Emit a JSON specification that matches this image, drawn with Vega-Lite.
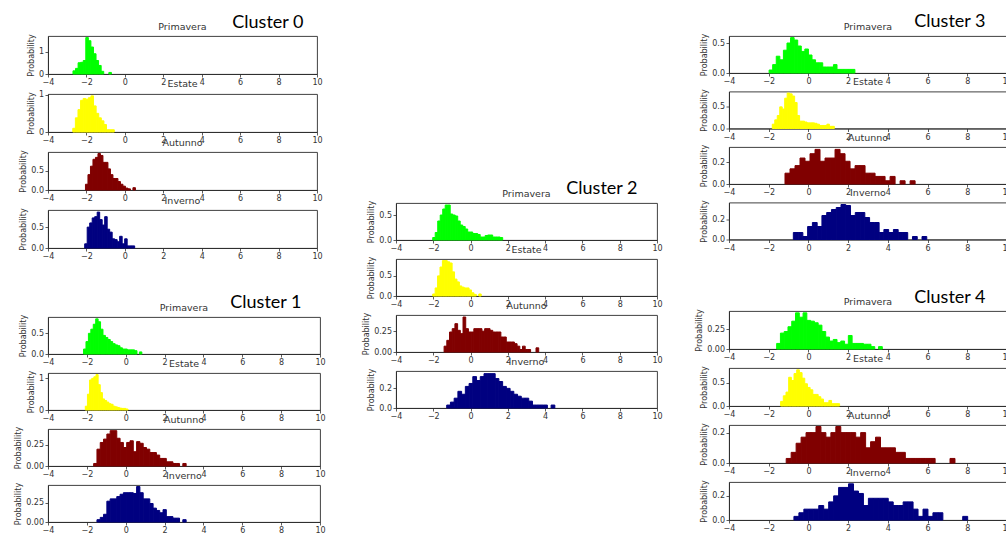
{
  "$schema": "https://vega.github.io/schema/vega-lite/v6.json",
  "background": "white",
  "padding": {"left": 14, "top": 13, "right": 0, "bottom": 0},
  "config": {
    "font": "DejaVu Sans",
    "view": {"stroke": "#2b2b2b", "strokeWidth": 0.9},
    "axis": {"grid": false, "labelFontSize": 8, "labelColor": "#333", "labelFlush": false, "labelOverlap": false, "tickColor": "#333", "tickSize": 3, "tickWidth": 0.8, "domainColor": "#2b2b2b", "domainWidth": 0.9, "titleFontSize": 8, "titleFontWeight": "normal", "titleColor": "#333", "labelPadding": 1.5, "titlePadding": 3},
    "title": {"fontSize": 9.5, "fontWeight": "normal", "color": "#333", "offset": 2},
    "rect": {"strokeWidth": 1, "strokeJoin": "miter"}
  },
  "datasets": {
    "c0_pri": [
      {"lo": -2.7, "hi": -2.567, "p": 0.14}, {"lo": -2.567, "hi": -2.433, "p": 0.25}, {"lo": -2.433, "hi": -2.3, "p": 0.5},
      {"lo": -2.3, "hi": -2.167, "p": 0.52}, {"lo": -2.167, "hi": -2.033, "p": 0.6}, {"lo": -2.033, "hi": -1.9, "p": 1.62},
      {"lo": -1.9, "hi": -1.767, "p": 1.48}, {"lo": -1.767, "hi": -1.633, "p": 1.2}, {"lo": -1.633, "hi": -1.5, "p": 0.9},
      {"lo": -1.5, "hi": -1.367, "p": 0.6}, {"lo": -1.367, "hi": -1.233, "p": 0.38}, {"lo": -1.233, "hi": -1.1, "p": 0.12},
      {"lo": -0.833, "hi": -0.7, "p": 0.07}
    ],
    "c0_est": [
      {"lo": -2.71, "hi": -2.575, "p": 0.1}, {"lo": -2.575, "hi": -2.44, "p": 0.38}, {"lo": -2.44, "hi": -2.305, "p": 0.6},
      {"lo": -2.305, "hi": -2.17, "p": 0.85}, {"lo": -2.17, "hi": -2.035, "p": 0.9}, {"lo": -2.035, "hi": -1.9, "p": 0.88},
      {"lo": -1.9, "hi": -1.765, "p": 0.92}, {"lo": -1.765, "hi": -1.63, "p": 0.97}, {"lo": -1.63, "hi": -1.495, "p": 0.7},
      {"lo": -1.495, "hi": -1.36, "p": 0.5}, {"lo": -1.36, "hi": -1.225, "p": 0.38}, {"lo": -1.225, "hi": -1.09, "p": 0.3},
      {"lo": -1.09, "hi": -0.955, "p": 0.2}, {"lo": -0.955, "hi": -0.82, "p": 0.06}, {"lo": -0.82, "hi": -0.685, "p": 0.06},
      {"lo": -0.685, "hi": -0.55, "p": 0.06}
    ],
    "c0_aut": [
      {"lo": -2.05, "hi": -1.92, "p": 0.15}, {"lo": -1.92, "hi": -1.79, "p": 0.4}, {"lo": -1.79, "hi": -1.66, "p": 0.62},
      {"lo": -1.66, "hi": -1.53, "p": 0.8}, {"lo": -1.53, "hi": -1.4, "p": 0.85}, {"lo": -1.4, "hi": -1.27, "p": 0.95},
      {"lo": -1.27, "hi": -1.14, "p": 0.9}, {"lo": -1.14, "hi": -1.01, "p": 0.72}, {"lo": -1.01, "hi": -0.88, "p": 0.72},
      {"lo": -0.88, "hi": -0.75, "p": 0.55}, {"lo": -0.75, "hi": -0.62, "p": 0.4}, {"lo": -0.62, "hi": -0.49, "p": 0.3},
      {"lo": -0.49, "hi": -0.36, "p": 0.3}, {"lo": -0.36, "hi": -0.23, "p": 0.22}, {"lo": -0.23, "hi": -0.1, "p": 0.15},
      {"lo": -0.1, "hi": 0.03, "p": 0.1}, {"lo": 0.03, "hi": 0.16, "p": 0.05}, {"lo": 0.16, "hi": 0.29, "p": 0.03},
      {"lo": 0.42, "hi": 0.55, "p": 0.06}
    ],
    "c0_inv": [
      {"lo": -2.09, "hi": -1.96, "p": 0.1}, {"lo": -1.96, "hi": -1.83, "p": 0.5}, {"lo": -1.83, "hi": -1.7, "p": 0.6},
      {"lo": -1.7, "hi": -1.57, "p": 0.72}, {"lo": -1.57, "hi": -1.44, "p": 0.75}, {"lo": -1.44, "hi": -1.31, "p": 0.86},
      {"lo": -1.31, "hi": -1.18, "p": 0.68}, {"lo": -1.18, "hi": -1.05, "p": 0.55}, {"lo": -1.05, "hi": -0.92, "p": 0.75},
      {"lo": -0.92, "hi": -0.79, "p": 0.45}, {"lo": -0.79, "hi": -0.66, "p": 0.38}, {"lo": -0.66, "hi": -0.53, "p": 0.22},
      {"lo": -0.53, "hi": -0.4, "p": 0.2}, {"lo": -0.4, "hi": -0.27, "p": 0.15}, {"lo": -0.27, "hi": -0.14, "p": 0.28},
      {"lo": -0.14, "hi": -0.01, "p": 0.1}, {"lo": -0.01, "hi": 0.12, "p": 0.22}, {"lo": 0.12, "hi": 0.25, "p": 0.05},
      {"lo": 0.25, "hi": 0.38, "p": 0.05}, {"lo": 0.38, "hi": 0.51, "p": 0.05}
    ],
    "c1_pri": [
      {"lo": -2.17, "hi": -2.045, "p": 0.12}, {"lo": -2.045, "hi": -1.92, "p": 0.3}, {"lo": -1.92, "hi": -1.795, "p": 0.5},
      {"lo": -1.795, "hi": -1.67, "p": 0.6}, {"lo": -1.67, "hi": -1.545, "p": 0.72}, {"lo": -1.545, "hi": -1.42, "p": 0.85},
      {"lo": -1.42, "hi": -1.295, "p": 0.78}, {"lo": -1.295, "hi": -1.17, "p": 0.6}, {"lo": -1.17, "hi": -1.045, "p": 0.45},
      {"lo": -1.045, "hi": -0.92, "p": 0.4}, {"lo": -0.92, "hi": -0.795, "p": 0.35}, {"lo": -0.795, "hi": -0.67, "p": 0.3},
      {"lo": -0.67, "hi": -0.545, "p": 0.25}, {"lo": -0.545, "hi": -0.42, "p": 0.22}, {"lo": -0.42, "hi": -0.295, "p": 0.2},
      {"lo": -0.295, "hi": -0.17, "p": 0.15}, {"lo": -0.17, "hi": -0.045, "p": 0.12}, {"lo": -0.045, "hi": 0.08, "p": 0.12},
      {"lo": 0.08, "hi": 0.205, "p": 0.1}, {"lo": 0.205, "hi": 0.33, "p": 0.1}, {"lo": 0.33, "hi": 0.455, "p": 0.1},
      {"lo": 0.455, "hi": 0.58, "p": 0.08}, {"lo": 0.705, "hi": 0.83, "p": 0.05}
    ],
    "c1_est": [
      {"lo": -2.08, "hi": -1.97, "p": 0.12}, {"lo": -1.97, "hi": -1.86, "p": 0.5}, {"lo": -1.86, "hi": -1.75, "p": 0.95},
      {"lo": -1.75, "hi": -1.64, "p": 1.0}, {"lo": -1.64, "hi": -1.53, "p": 1.05}, {"lo": -1.53, "hi": -1.42, "p": 1.12},
      {"lo": -1.42, "hi": -1.31, "p": 0.8}, {"lo": -1.31, "hi": -1.2, "p": 0.55}, {"lo": -1.2, "hi": -1.09, "p": 0.35},
      {"lo": -1.09, "hi": -0.98, "p": 0.3}, {"lo": -0.98, "hi": -0.87, "p": 0.25}, {"lo": -0.87, "hi": -0.76, "p": 0.2},
      {"lo": -0.76, "hi": -0.65, "p": 0.18}, {"lo": -0.65, "hi": -0.54, "p": 0.12}, {"lo": -0.54, "hi": -0.43, "p": 0.1},
      {"lo": -0.43, "hi": -0.32, "p": 0.08}, {"lo": -0.32, "hi": -0.21, "p": 0.06}, {"lo": -0.21, "hi": -0.1, "p": 0.05},
      {"lo": -0.1, "hi": 0.01, "p": 0.05}, {"lo": 0.01, "hi": 0.12, "p": 0.03}
    ],
    "c1_aut": [
      {"lo": -1.65, "hi": -1.48, "p": 0.03}, {"lo": -1.48, "hi": -1.31, "p": 0.2}, {"lo": -1.31, "hi": -1.14, "p": 0.28},
      {"lo": -1.14, "hi": -0.97, "p": 0.32}, {"lo": -0.97, "hi": -0.8, "p": 0.38}, {"lo": -0.8, "hi": -0.63, "p": 0.42},
      {"lo": -0.63, "hi": -0.46, "p": 0.42}, {"lo": -0.46, "hi": -0.29, "p": 0.33}, {"lo": -0.29, "hi": -0.12, "p": 0.28},
      {"lo": -0.12, "hi": 0.05, "p": 0.22}, {"lo": 0.05, "hi": 0.22, "p": 0.28}, {"lo": 0.22, "hi": 0.39, "p": 0.3},
      {"lo": 0.39, "hi": 0.56, "p": 0.17}, {"lo": 0.56, "hi": 0.73, "p": 0.29}, {"lo": 0.73, "hi": 0.9, "p": 0.27},
      {"lo": 0.9, "hi": 1.07, "p": 0.22}, {"lo": 1.07, "hi": 1.24, "p": 0.2}, {"lo": 1.24, "hi": 1.41, "p": 0.16},
      {"lo": 1.41, "hi": 1.58, "p": 0.16}, {"lo": 1.58, "hi": 1.75, "p": 0.13}, {"lo": 1.75, "hi": 1.92, "p": 0.09},
      {"lo": 1.92, "hi": 2.09, "p": 0.09}, {"lo": 2.09, "hi": 2.26, "p": 0.05}, {"lo": 2.26, "hi": 2.43, "p": 0.05},
      {"lo": 2.43, "hi": 2.6, "p": 0.03}, {"lo": 2.6, "hi": 2.77, "p": 0.03}, {"lo": 2.94, "hi": 3.11, "p": 0.03}
    ],
    "c1_inv": [
      {"lo": -1.48, "hi": -1.31, "p": 0.03}, {"lo": -1.31, "hi": -1.14, "p": 0.06}, {"lo": -1.14, "hi": -0.97, "p": 0.1},
      {"lo": -0.97, "hi": -0.8, "p": 0.27}, {"lo": -0.8, "hi": -0.63, "p": 0.3}, {"lo": -0.63, "hi": -0.46, "p": 0.3},
      {"lo": -0.46, "hi": -0.29, "p": 0.33}, {"lo": -0.29, "hi": -0.12, "p": 0.36}, {"lo": -0.12, "hi": 0.05, "p": 0.38},
      {"lo": 0.05, "hi": 0.22, "p": 0.38}, {"lo": 0.22, "hi": 0.39, "p": 0.38}, {"lo": 0.39, "hi": 0.56, "p": 0.37},
      {"lo": 0.56, "hi": 0.73, "p": 0.46}, {"lo": 0.73, "hi": 0.9, "p": 0.38}, {"lo": 0.9, "hi": 1.07, "p": 0.3},
      {"lo": 1.07, "hi": 1.24, "p": 0.3}, {"lo": 1.24, "hi": 1.41, "p": 0.24}, {"lo": 1.41, "hi": 1.58, "p": 0.18},
      {"lo": 1.58, "hi": 1.75, "p": 0.15}, {"lo": 1.75, "hi": 1.92, "p": 0.12}, {"lo": 1.92, "hi": 2.09, "p": 0.16},
      {"lo": 2.09, "hi": 2.26, "p": 0.07}, {"lo": 2.26, "hi": 2.43, "p": 0.07}, {"lo": 2.43, "hi": 2.6, "p": 0.05},
      {"lo": 2.6, "hi": 2.77, "p": 0.05}, {"lo": 2.94, "hi": 3.11, "p": 0.03}
    ],
    "c2_pri": [
      {"lo": -2.03, "hi": -1.896, "p": 0.05}, {"lo": -1.896, "hi": -1.762, "p": 0.15}, {"lo": -1.762, "hi": -1.628, "p": 0.38},
      {"lo": -1.628, "hi": -1.494, "p": 0.5}, {"lo": -1.494, "hi": -1.36, "p": 0.62}, {"lo": -1.36, "hi": -1.226, "p": 0.7},
      {"lo": -1.226, "hi": -1.092, "p": 0.7}, {"lo": -1.092, "hi": -0.958, "p": 0.52}, {"lo": -0.958, "hi": -0.824, "p": 0.5},
      {"lo": -0.824, "hi": -0.69, "p": 0.48}, {"lo": -0.69, "hi": -0.556, "p": 0.38}, {"lo": -0.556, "hi": -0.422, "p": 0.3},
      {"lo": -0.422, "hi": -0.288, "p": 0.27}, {"lo": -0.288, "hi": -0.154, "p": 0.22}, {"lo": -0.154, "hi": -0.02, "p": 0.16},
      {"lo": -0.02, "hi": 0.114, "p": 0.16}, {"lo": 0.114, "hi": 0.248, "p": 0.13}, {"lo": 0.248, "hi": 0.382, "p": 0.13},
      {"lo": 0.382, "hi": 0.516, "p": 0.11}, {"lo": 0.516, "hi": 0.65, "p": 0.06}, {"lo": 0.65, "hi": 0.784, "p": 0.06},
      {"lo": 0.784, "hi": 0.918, "p": 0.09}, {"lo": 0.918, "hi": 1.052, "p": 0.1}, {"lo": 1.052, "hi": 1.186, "p": 0.1},
      {"lo": 1.186, "hi": 1.32, "p": 0.06}, {"lo": 1.32, "hi": 1.454, "p": 0.06}, {"lo": 1.454, "hi": 1.588, "p": 0.06},
      {"lo": 1.588, "hi": 1.722, "p": 0.05}
    ],
    "c2_est": [
      {"lo": -2.03, "hi": -1.9, "p": 0.05}, {"lo": -1.9, "hi": -1.77, "p": 0.2}, {"lo": -1.77, "hi": -1.64, "p": 0.5},
      {"lo": -1.64, "hi": -1.51, "p": 0.72}, {"lo": -1.51, "hi": -1.38, "p": 0.88}, {"lo": -1.38, "hi": -1.25, "p": 0.88},
      {"lo": -1.25, "hi": -1.12, "p": 0.85}, {"lo": -1.12, "hi": -0.99, "p": 0.82}, {"lo": -0.99, "hi": -0.86, "p": 0.6},
      {"lo": -0.86, "hi": -0.73, "p": 0.42}, {"lo": -0.73, "hi": -0.6, "p": 0.35}, {"lo": -0.6, "hi": -0.47, "p": 0.25},
      {"lo": -0.47, "hi": -0.34, "p": 0.22}, {"lo": -0.34, "hi": -0.21, "p": 0.2}, {"lo": -0.21, "hi": -0.08, "p": 0.2},
      {"lo": -0.08, "hi": 0.05, "p": 0.15}, {"lo": 0.05, "hi": 0.18, "p": 0.08}, {"lo": 0.18, "hi": 0.31, "p": 0.04},
      {"lo": 0.44, "hi": 0.57, "p": 0.05}
    ],
    "c2_aut": [
      {"lo": -1.42, "hi": -1.275, "p": 0.07}, {"lo": -1.275, "hi": -1.13, "p": 0.14}, {"lo": -1.13, "hi": -0.985, "p": 0.24},
      {"lo": -0.985, "hi": -0.84, "p": 0.28}, {"lo": -0.84, "hi": -0.695, "p": 0.34}, {"lo": -0.695, "hi": -0.55, "p": 0.26},
      {"lo": -0.55, "hi": -0.405, "p": 0.22}, {"lo": -0.405, "hi": -0.26, "p": 0.42}, {"lo": -0.26, "hi": -0.115, "p": 0.28},
      {"lo": -0.115, "hi": 0.03, "p": 0.24}, {"lo": 0.03, "hi": 0.175, "p": 0.24}, {"lo": 0.175, "hi": 0.32, "p": 0.28},
      {"lo": 0.32, "hi": 0.465, "p": 0.28}, {"lo": 0.465, "hi": 0.61, "p": 0.28}, {"lo": 0.61, "hi": 0.755, "p": 0.25},
      {"lo": 0.755, "hi": 0.9, "p": 0.28}, {"lo": 0.9, "hi": 1.045, "p": 0.28}, {"lo": 1.045, "hi": 1.19, "p": 0.26},
      {"lo": 1.19, "hi": 1.335, "p": 0.24}, {"lo": 1.335, "hi": 1.48, "p": 0.24}, {"lo": 1.48, "hi": 1.625, "p": 0.24},
      {"lo": 1.625, "hi": 1.77, "p": 0.18}, {"lo": 1.77, "hi": 1.915, "p": 0.18}, {"lo": 1.915, "hi": 2.06, "p": 0.12},
      {"lo": 2.06, "hi": 2.205, "p": 0.12}, {"lo": 2.205, "hi": 2.35, "p": 0.12}, {"lo": 2.35, "hi": 2.495, "p": 0.1},
      {"lo": 2.495, "hi": 2.64, "p": 0.07}, {"lo": 2.64, "hi": 2.785, "p": 0.03}, {"lo": 2.785, "hi": 2.93, "p": 0.07},
      {"lo": 2.93, "hi": 3.075, "p": 0.03}, {"lo": 3.075, "hi": 3.22, "p": 0.03}, {"lo": 3.51, "hi": 3.655, "p": 0.05}
    ],
    "c2_inv": [
      {"lo": -1.28, "hi": -1.08, "p": 0.03}, {"lo": -1.08, "hi": -0.88, "p": 0.06}, {"lo": -0.88, "hi": -0.68, "p": 0.1},
      {"lo": -0.68, "hi": -0.48, "p": 0.17}, {"lo": -0.48, "hi": -0.28, "p": 0.14}, {"lo": -0.28, "hi": -0.08, "p": 0.22},
      {"lo": -0.08, "hi": 0.12, "p": 0.25}, {"lo": 0.12, "hi": 0.32, "p": 0.32}, {"lo": 0.32, "hi": 0.52, "p": 0.28},
      {"lo": 0.52, "hi": 0.72, "p": 0.32}, {"lo": 0.72, "hi": 0.92, "p": 0.35}, {"lo": 0.92, "hi": 1.12, "p": 0.35},
      {"lo": 1.12, "hi": 1.32, "p": 0.35}, {"lo": 1.32, "hi": 1.52, "p": 0.3}, {"lo": 1.52, "hi": 1.72, "p": 0.27},
      {"lo": 1.72, "hi": 1.92, "p": 0.22}, {"lo": 1.92, "hi": 2.12, "p": 0.2}, {"lo": 2.12, "hi": 2.32, "p": 0.17},
      {"lo": 2.32, "hi": 2.52, "p": 0.14}, {"lo": 2.52, "hi": 2.72, "p": 0.12}, {"lo": 2.72, "hi": 2.92, "p": 0.1},
      {"lo": 2.92, "hi": 3.12, "p": 0.1}, {"lo": 3.12, "hi": 3.32, "p": 0.07}, {"lo": 3.32, "hi": 3.52, "p": 0.03},
      {"lo": 3.52, "hi": 3.72, "p": 0.03}, {"lo": 3.72, "hi": 3.92, "p": 0.03}, {"lo": 3.92, "hi": 4.12, "p": 0.03},
      {"lo": 4.32, "hi": 4.52, "p": 0.03}
    ],
    "c3_pri": [
      {"lo": -1.98, "hi": -1.8, "p": 0.05}, {"lo": -1.8, "hi": -1.62, "p": 0.14}, {"lo": -1.62, "hi": -1.44, "p": 0.28},
      {"lo": -1.44, "hi": -1.26, "p": 0.22}, {"lo": -1.26, "hi": -1.08, "p": 0.38}, {"lo": -1.08, "hi": -0.9, "p": 0.5},
      {"lo": -0.9, "hi": -0.72, "p": 0.59}, {"lo": -0.72, "hi": -0.54, "p": 0.55}, {"lo": -0.54, "hi": -0.36, "p": 0.45},
      {"lo": -0.36, "hi": -0.18, "p": 0.36}, {"lo": -0.18, "hi": 0.0, "p": 0.4}, {"lo": 0.0, "hi": 0.18, "p": 0.3},
      {"lo": 0.18, "hi": 0.36, "p": 0.22}, {"lo": 0.36, "hi": 0.54, "p": 0.17}, {"lo": 0.54, "hi": 0.72, "p": 0.17},
      {"lo": 0.72, "hi": 0.9, "p": 0.1}, {"lo": 0.9, "hi": 1.08, "p": 0.1}, {"lo": 1.08, "hi": 1.26, "p": 0.1},
      {"lo": 1.26, "hi": 1.44, "p": 0.14}, {"lo": 1.44, "hi": 1.62, "p": 0.06}, {"lo": 1.62, "hi": 1.8, "p": 0.06},
      {"lo": 1.8, "hi": 1.98, "p": 0.06}, {"lo": 1.98, "hi": 2.16, "p": 0.06}, {"lo": 2.16, "hi": 2.34, "p": 0.06}
    ],
    "c3_est": [
      {"lo": -1.82, "hi": -1.695, "p": 0.1}, {"lo": -1.695, "hi": -1.57, "p": 0.2}, {"lo": -1.57, "hi": -1.445, "p": 0.3},
      {"lo": -1.445, "hi": -1.32, "p": 0.5}, {"lo": -1.32, "hi": -1.195, "p": 0.45}, {"lo": -1.195, "hi": -1.07, "p": 0.7},
      {"lo": -1.07, "hi": -0.945, "p": 0.82}, {"lo": -0.945, "hi": -0.82, "p": 0.8}, {"lo": -0.82, "hi": -0.695, "p": 0.75},
      {"lo": -0.695, "hi": -0.57, "p": 0.6}, {"lo": -0.57, "hi": -0.445, "p": 0.3}, {"lo": -0.445, "hi": -0.32, "p": 0.17},
      {"lo": -0.32, "hi": -0.195, "p": 0.17}, {"lo": -0.195, "hi": -0.07, "p": 0.15}, {"lo": -0.07, "hi": 0.055, "p": 0.13},
      {"lo": 0.055, "hi": 0.18, "p": 0.13}, {"lo": 0.18, "hi": 0.305, "p": 0.13}, {"lo": 0.305, "hi": 0.43, "p": 0.12},
      {"lo": 0.43, "hi": 0.555, "p": 0.1}, {"lo": 0.555, "hi": 0.68, "p": 0.07}, {"lo": 0.68, "hi": 0.805, "p": 0.07},
      {"lo": 0.805, "hi": 0.93, "p": 0.07}, {"lo": 0.93, "hi": 1.055, "p": 0.1}, {"lo": 1.055, "hi": 1.18, "p": 0.05},
      {"lo": 1.18, "hi": 1.305, "p": 0.05}
    ],
    "c3_aut": [
      {"lo": -1.18, "hi": -0.928, "p": 0.1}, {"lo": -0.928, "hi": -0.676, "p": 0.14}, {"lo": -0.676, "hi": -0.424, "p": 0.17},
      {"lo": -0.424, "hi": -0.172, "p": 0.24}, {"lo": -0.172, "hi": 0.08, "p": 0.21}, {"lo": 0.08, "hi": 0.332, "p": 0.28},
      {"lo": 0.332, "hi": 0.584, "p": 0.32}, {"lo": 0.584, "hi": 0.836, "p": 0.21}, {"lo": 0.836, "hi": 1.088, "p": 0.24},
      {"lo": 1.088, "hi": 1.34, "p": 0.24}, {"lo": 1.34, "hi": 1.592, "p": 0.32}, {"lo": 1.592, "hi": 1.844, "p": 0.28},
      {"lo": 1.844, "hi": 2.096, "p": 0.21}, {"lo": 2.096, "hi": 2.348, "p": 0.14}, {"lo": 2.348, "hi": 2.6, "p": 0.17},
      {"lo": 2.6, "hi": 2.852, "p": 0.17}, {"lo": 2.852, "hi": 3.104, "p": 0.1}, {"lo": 3.104, "hi": 3.356, "p": 0.1},
      {"lo": 3.356, "hi": 3.608, "p": 0.07}, {"lo": 3.608, "hi": 3.86, "p": 0.07}, {"lo": 3.86, "hi": 4.112, "p": 0.03},
      {"lo": 4.112, "hi": 4.364, "p": 0.07}, {"lo": 4.616, "hi": 4.868, "p": 0.03}, {"lo": 5.12, "hi": 5.372, "p": 0.03}
    ],
    "c3_inv": [
      {"lo": -0.76, "hi": -0.52, "p": 0.07}, {"lo": -0.52, "hi": -0.28, "p": 0.07}, {"lo": -0.28, "hi": -0.04, "p": 0.03},
      {"lo": -0.04, "hi": 0.2, "p": 0.13}, {"lo": 0.2, "hi": 0.44, "p": 0.17}, {"lo": 0.44, "hi": 0.68, "p": 0.13},
      {"lo": 0.68, "hi": 0.92, "p": 0.24}, {"lo": 0.92, "hi": 1.16, "p": 0.27}, {"lo": 1.16, "hi": 1.4, "p": 0.3},
      {"lo": 1.4, "hi": 1.64, "p": 0.32}, {"lo": 1.64, "hi": 1.88, "p": 0.35}, {"lo": 1.88, "hi": 2.12, "p": 0.34},
      {"lo": 2.12, "hi": 2.36, "p": 0.24}, {"lo": 2.36, "hi": 2.6, "p": 0.27}, {"lo": 2.6, "hi": 2.84, "p": 0.27},
      {"lo": 2.84, "hi": 3.08, "p": 0.22}, {"lo": 3.08, "hi": 3.32, "p": 0.17}, {"lo": 3.32, "hi": 3.56, "p": 0.17},
      {"lo": 3.56, "hi": 3.8, "p": 0.07}, {"lo": 3.8, "hi": 4.04, "p": 0.1}, {"lo": 4.04, "hi": 4.28, "p": 0.07},
      {"lo": 4.28, "hi": 4.52, "p": 0.1}, {"lo": 4.52, "hi": 4.76, "p": 0.07}, {"lo": 4.76, "hi": 5.0, "p": 0.07},
      {"lo": 5.24, "hi": 5.48, "p": 0.03}, {"lo": 5.72, "hi": 5.96, "p": 0.03}
    ],
    "c4_pri": [
      {"lo": -1.6, "hi": -1.41, "p": 0.07}, {"lo": -1.41, "hi": -1.22, "p": 0.2}, {"lo": -1.22, "hi": -1.03, "p": 0.22},
      {"lo": -1.03, "hi": -0.84, "p": 0.28}, {"lo": -0.84, "hi": -0.65, "p": 0.35}, {"lo": -0.65, "hi": -0.46, "p": 0.455},
      {"lo": -0.46, "hi": -0.27, "p": 0.4}, {"lo": -0.27, "hi": -0.08, "p": 0.455}, {"lo": -0.08, "hi": 0.11, "p": 0.36},
      {"lo": 0.11, "hi": 0.3, "p": 0.35}, {"lo": 0.3, "hi": 0.49, "p": 0.33}, {"lo": 0.49, "hi": 0.68, "p": 0.3},
      {"lo": 0.68, "hi": 0.87, "p": 0.22}, {"lo": 0.87, "hi": 1.06, "p": 0.15}, {"lo": 1.06, "hi": 1.25, "p": 0.1},
      {"lo": 1.25, "hi": 1.44, "p": 0.12}, {"lo": 1.44, "hi": 1.63, "p": 0.08}, {"lo": 1.63, "hi": 1.82, "p": 0.1},
      {"lo": 1.82, "hi": 2.01, "p": 0.06}, {"lo": 2.01, "hi": 2.2, "p": 0.17}, {"lo": 2.2, "hi": 2.39, "p": 0.07},
      {"lo": 2.39, "hi": 2.58, "p": 0.07}, {"lo": 2.58, "hi": 2.77, "p": 0.07}, {"lo": 2.77, "hi": 2.96, "p": 0.06},
      {"lo": 2.96, "hi": 3.15, "p": 0.06}, {"lo": 3.15, "hi": 3.34, "p": 0.03}, {"lo": 3.53, "hi": 3.72, "p": 0.03}
    ],
    "c4_est": [
      {"lo": -1.4, "hi": -1.265, "p": 0.1}, {"lo": -1.265, "hi": -1.13, "p": 0.22}, {"lo": -1.13, "hi": -0.995, "p": 0.3},
      {"lo": -0.995, "hi": -0.86, "p": 0.62}, {"lo": -0.86, "hi": -0.725, "p": 0.55}, {"lo": -0.725, "hi": -0.59, "p": 0.7},
      {"lo": -0.59, "hi": -0.455, "p": 0.78}, {"lo": -0.455, "hi": -0.32, "p": 0.72}, {"lo": -0.32, "hi": -0.185, "p": 0.6},
      {"lo": -0.185, "hi": -0.05, "p": 0.48}, {"lo": -0.05, "hi": 0.085, "p": 0.4}, {"lo": 0.085, "hi": 0.22, "p": 0.35},
      {"lo": 0.22, "hi": 0.355, "p": 0.25}, {"lo": 0.355, "hi": 0.49, "p": 0.25}, {"lo": 0.49, "hi": 0.625, "p": 0.2},
      {"lo": 0.625, "hi": 0.76, "p": 0.15}, {"lo": 0.76, "hi": 0.895, "p": 0.07}, {"lo": 0.895, "hi": 1.03, "p": 0.07},
      {"lo": 1.03, "hi": 1.165, "p": 0.12}, {"lo": 1.165, "hi": 1.3, "p": 0.05}, {"lo": 1.3, "hi": 1.435, "p": 0.05},
      {"lo": 1.435, "hi": 1.57, "p": 0.05}
    ],
    "c4_aut": [
      {"lo": -1.12, "hi": -0.87, "p": 0.03}, {"lo": -0.87, "hi": -0.62, "p": 0.07}, {"lo": -0.62, "hi": -0.37, "p": 0.13},
      {"lo": -0.37, "hi": -0.12, "p": 0.17}, {"lo": -0.12, "hi": 0.13, "p": 0.2}, {"lo": 0.13, "hi": 0.38, "p": 0.2},
      {"lo": 0.38, "hi": 0.63, "p": 0.24}, {"lo": 0.63, "hi": 0.88, "p": 0.2}, {"lo": 0.88, "hi": 1.13, "p": 0.17},
      {"lo": 1.13, "hi": 1.38, "p": 0.2}, {"lo": 1.38, "hi": 1.63, "p": 0.24}, {"lo": 1.63, "hi": 1.88, "p": 0.2},
      {"lo": 1.88, "hi": 2.13, "p": 0.2}, {"lo": 2.13, "hi": 2.38, "p": 0.2}, {"lo": 2.38, "hi": 2.63, "p": 0.17},
      {"lo": 2.63, "hi": 2.88, "p": 0.2}, {"lo": 2.88, "hi": 3.13, "p": 0.1}, {"lo": 3.13, "hi": 3.38, "p": 0.14},
      {"lo": 3.38, "hi": 3.63, "p": 0.17}, {"lo": 3.63, "hi": 3.88, "p": 0.1}, {"lo": 3.88, "hi": 4.13, "p": 0.1},
      {"lo": 4.13, "hi": 4.38, "p": 0.1}, {"lo": 4.38, "hi": 4.63, "p": 0.07}, {"lo": 4.63, "hi": 4.88, "p": 0.07},
      {"lo": 4.88, "hi": 5.13, "p": 0.03}, {"lo": 5.13, "hi": 5.38, "p": 0.03}, {"lo": 5.38, "hi": 5.63, "p": 0.03},
      {"lo": 5.63, "hi": 5.88, "p": 0.03}, {"lo": 5.88, "hi": 6.13, "p": 0.03}, {"lo": 6.13, "hi": 6.38, "p": 0.03},
      {"lo": 7.13, "hi": 7.38, "p": 0.03}
    ],
    "c4_inv": [
      {"lo": -0.73, "hi": -0.48, "p": 0.03}, {"lo": -0.48, "hi": -0.23, "p": 0.06}, {"lo": -0.23, "hi": 0.02, "p": 0.09},
      {"lo": 0.02, "hi": 0.27, "p": 0.09}, {"lo": 0.27, "hi": 0.52, "p": 0.09}, {"lo": 0.52, "hi": 0.77, "p": 0.12},
      {"lo": 0.77, "hi": 1.02, "p": 0.09}, {"lo": 1.02, "hi": 1.27, "p": 0.15}, {"lo": 1.27, "hi": 1.52, "p": 0.2},
      {"lo": 1.52, "hi": 1.77, "p": 0.27}, {"lo": 1.77, "hi": 2.02, "p": 0.27}, {"lo": 2.02, "hi": 2.27, "p": 0.3},
      {"lo": 2.27, "hi": 2.52, "p": 0.24}, {"lo": 2.52, "hi": 2.77, "p": 0.22}, {"lo": 2.77, "hi": 3.02, "p": 0.12},
      {"lo": 3.02, "hi": 3.27, "p": 0.18}, {"lo": 3.27, "hi": 3.52, "p": 0.18}, {"lo": 3.52, "hi": 3.77, "p": 0.18},
      {"lo": 3.77, "hi": 4.02, "p": 0.18}, {"lo": 4.02, "hi": 4.27, "p": 0.15}, {"lo": 4.27, "hi": 4.52, "p": 0.12},
      {"lo": 4.52, "hi": 4.77, "p": 0.12}, {"lo": 4.77, "hi": 5.02, "p": 0.15}, {"lo": 5.02, "hi": 5.27, "p": 0.15},
      {"lo": 5.27, "hi": 5.52, "p": 0.09}, {"lo": 5.52, "hi": 5.77, "p": 0.03}, {"lo": 5.77, "hi": 6.02, "p": 0.09},
      {"lo": 6.02, "hi": 6.27, "p": 0.03}, {"lo": 6.27, "hi": 6.52, "p": 0.06}, {"lo": 6.52, "hi": 6.77, "p": 0.06},
      {"lo": 7.77, "hi": 8.02, "p": 0.03}
    ]
  },
  "hconcat": [
    {
      "vconcat": [
        {
          "title": {"text": "Cluster 0", "anchor": "end", "font": "Lato", "fontSize": 18, "fontWeight": "normal", "color": "#000", "dx": -19, "dy": 10, "offset": 0},
          "bounds": "flush", "spacing": 20,
          "vconcat": [
            {"title": "Primavera", "width": 269, "height": 38, "data": {"name": "c0_pri"}, "mark": {"type": "rect", "color": "#00ff00", "stroke": "#00ff00"},
             "encoding": {"x": {"field": "lo", "type": "quantitative", "scale": {"domain": [-4, 10], "nice": false}, "axis": {"values": [-4, -2, 0, 2, 4, 6, 8, 10], "format": "d", "title": null}}, "x2": {"field": "hi"},
                          "y": {"field": "p", "type": "quantitative", "scale": {"domain": [0, 1.69], "nice": false}, "axis": {"values": [0, 1], "format": "d", "title": "Probability"}}, "y2": {"datum": 0}}},
            {"title": "Estate", "width": 269, "height": 38, "data": {"name": "c0_est"}, "mark": {"type": "rect", "color": "#ffff00", "stroke": "#ffff00"},
             "encoding": {"x": {"field": "lo", "type": "quantitative", "scale": {"domain": [-4, 10], "nice": false}, "axis": {"values": [-4, -2, 0, 2, 4, 6, 8, 10], "format": "d", "title": null}}, "x2": {"field": "hi"},
                          "y": {"field": "p", "type": "quantitative", "scale": {"domain": [0, 1.02], "nice": false}, "axis": {"values": [0, 1], "format": "d", "title": "Probability"}}, "y2": {"datum": 0}}},
            {"title": "Autunno", "width": 269, "height": 38, "data": {"name": "c0_aut"}, "mark": {"type": "rect", "color": "#800000", "stroke": "#800000"},
             "encoding": {"x": {"field": "lo", "type": "quantitative", "scale": {"domain": [-4, 10], "nice": false}, "axis": {"values": [-4, -2, 0, 2, 4, 6, 8, 10], "format": "d", "title": null}}, "x2": {"field": "hi"},
                          "y": {"field": "p", "type": "quantitative", "scale": {"domain": [0, 0.99], "nice": false}, "axis": {"values": [0, 0.5], "format": ".1f", "title": "Probability"}}, "y2": {"datum": 0}}},
            {"title": "Inverno", "width": 269, "height": 38, "data": {"name": "c0_inv"}, "mark": {"type": "rect", "color": "#000080", "stroke": "#000080"},
             "encoding": {"x": {"field": "lo", "type": "quantitative", "scale": {"domain": [-4, 10], "nice": false}, "axis": {"values": [-4, -2, 0, 2, 4, 6, 8, 10], "format": "d", "title": null}}, "x2": {"field": "hi"},
                          "y": {"field": "p", "type": "quantitative", "scale": {"domain": [0, 0.91], "nice": false}, "axis": {"values": [0, 0.5], "format": ".1f", "title": "Probability"}}, "y2": {"datum": 0}}}
          ]
        },
        {
          "title": {"text": "Cluster 1", "anchor": "end", "font": "Lato", "fontSize": 18, "fontWeight": "normal", "color": "#000", "dx": -24, "dy": 10, "offset": 0},
          "bounds": "flush", "spacing": 19,
          "vconcat": [
            {"title": "Primavera", "width": 272, "height": 37, "data": {"name": "c1_pri"}, "mark": {"type": "rect", "color": "#00ff00", "stroke": "#00ff00"},
             "encoding": {"x": {"field": "lo", "type": "quantitative", "scale": {"domain": [-4, 10], "nice": false}, "axis": {"values": [-4, -2, 0, 2, 4, 6, 8, 10], "format": "d", "title": null}}, "x2": {"field": "hi"},
                          "y": {"field": "p", "type": "quantitative", "scale": {"domain": [0, 0.895], "nice": false}, "axis": {"values": [0, 0.5], "format": ".1f", "title": "Probability"}}, "y2": {"datum": 0}}},
            {"title": "Estate", "width": 272, "height": 37, "data": {"name": "c1_est"}, "mark": {"type": "rect", "color": "#ffff00", "stroke": "#ffff00"},
             "encoding": {"x": {"field": "lo", "type": "quantitative", "scale": {"domain": [-4, 10], "nice": false}, "axis": {"values": [-4, -2, 0, 2, 4, 6, 8, 10], "format": "d", "title": null}}, "x2": {"field": "hi"},
                          "y": {"field": "p", "type": "quantitative", "scale": {"domain": [0, 1.17], "nice": false}, "axis": {"values": [0, 1], "format": "d", "title": "Probability"}}, "y2": {"datum": 0}}},
            {"title": "Autunno", "width": 272, "height": 37, "data": {"name": "c1_aut"}, "mark": {"type": "rect", "color": "#800000", "stroke": "#800000"},
             "encoding": {"x": {"field": "lo", "type": "quantitative", "scale": {"domain": [-4, 10], "nice": false}, "axis": {"values": [-4, -2, 0, 2, 4, 6, 8, 10], "format": "d", "title": null}}, "x2": {"field": "hi"},
                          "y": {"field": "p", "type": "quantitative", "scale": {"domain": [0, 0.44], "nice": false}, "axis": {"values": [0, 0.25], "format": ".2f", "title": "Probability"}}, "y2": {"datum": 0}}},
            {"title": "Inverno", "width": 272, "height": 37, "data": {"name": "c1_inv"}, "mark": {"type": "rect", "color": "#000080", "stroke": "#000080"},
             "encoding": {"x": {"field": "lo", "type": "quantitative", "scale": {"domain": [-4, 10], "nice": false}, "axis": {"values": [-4, -2, 0, 2, 4, 6, 8, 10], "format": "d", "title": null}}, "x2": {"field": "hi"},
                          "y": {"field": "p", "type": "quantitative", "scale": {"domain": [0, 0.48], "nice": false}, "axis": {"values": [0, 0.25], "format": ".2f", "title": "Probability"}}, "y2": {"datum": 0}}}
          ]
        }
      ],
      "spacing": 33
    },
    {
      "hconcat": [
        {
          "vconcat": [
            {"width": 261, "height": 114, "data": {"values": [{}]}, "mark": {"type": "point", "opacity": 0}, "view": {"stroke": null}},
            {
              "title": {"text": "Cluster 2", "anchor": "end", "font": "Lato", "fontSize": 18, "fontWeight": "normal", "color": "#000", "dx": -25, "dy": 10, "offset": 0},
              "bounds": "flush", "spacing": 19,
              "vconcat": [
                {"title": "Primavera", "width": 261, "height": 37, "data": {"name": "c2_pri"}, "mark": {"type": "rect", "color": "#00ff00", "stroke": "#00ff00"},
                 "encoding": {"x": {"field": "lo", "type": "quantitative", "scale": {"domain": [-4, 10], "nice": false}, "axis": {"values": [-4, -2, 0, 2, 4, 6, 8, 10], "format": "d", "title": null}}, "x2": {"field": "hi"},
                              "y": {"field": "p", "type": "quantitative", "scale": {"domain": [0, 0.74], "nice": false}, "axis": {"values": [0, 0.5], "format": ".1f", "title": "Probability"}}, "y2": {"datum": 0}}},
                {"title": "Estate", "width": 261, "height": 37, "data": {"name": "c2_est"}, "mark": {"type": "rect", "color": "#ffff00", "stroke": "#ffff00"},
                 "encoding": {"x": {"field": "lo", "type": "quantitative", "scale": {"domain": [-4, 10], "nice": false}, "axis": {"values": [-4, -2, 0, 2, 4, 6, 8, 10], "format": "d", "title": null}}, "x2": {"field": "hi"},
                              "y": {"field": "p", "type": "quantitative", "scale": {"domain": [0, 0.92], "nice": false}, "axis": {"values": [0, 0.5], "format": ".1f", "title": "Probability"}}, "y2": {"datum": 0}}},
                {"title": "Autunno", "width": 261, "height": 37, "data": {"name": "c2_aut"}, "mark": {"type": "rect", "color": "#800000", "stroke": "#800000"},
                 "encoding": {"x": {"field": "lo", "type": "quantitative", "scale": {"domain": [-4, 10], "nice": false}, "axis": {"values": [-4, -2, 0, 2, 4, 6, 8, 10], "format": "d", "title": null}}, "x2": {"field": "hi"},
                              "y": {"field": "p", "type": "quantitative", "scale": {"domain": [0, 0.444], "nice": false}, "axis": {"values": [0, 0.25], "format": ".2f", "title": "Probability"}}, "y2": {"datum": 0}}},
                {"title": "Inverno", "width": 261, "height": 37, "data": {"name": "c2_inv"}, "mark": {"type": "rect", "color": "#000080", "stroke": "#000080"},
                 "encoding": {"x": {"field": "lo", "type": "quantitative", "scale": {"domain": [-4, 10], "nice": false}, "axis": {"values": [-4, -2, 0, 2, 4, 6, 8, 10], "format": "d", "title": null}}, "x2": {"field": "hi"},
                              "y": {"field": "p", "type": "quantitative", "scale": {"domain": [0, 0.377], "nice": false}, "axis": {"values": [0, 0.2], "format": ".1f", "title": "Probability"}}, "y2": {"datum": 0}}}
              ]
            }
          ],
          "spacing": 30
        },
        {
          "vconcat": [
            {
              "title": {"text": "Cluster 3", "anchor": "end", "font": "Lato", "fontSize": 18, "fontWeight": "normal", "color": "#000", "dx": -27, "dy": 10, "offset": 0},
              "bounds": "flush", "spacing": 18.5,
              "vconcat": [
                {"title": "Primavera", "width": 278, "height": 37, "data": {"name": "c3_pri"}, "mark": {"type": "rect", "color": "#00ff00", "stroke": "#00ff00"},
                 "encoding": {"x": {"field": "lo", "type": "quantitative", "scale": {"domain": [-4, 10], "nice": false}, "axis": {"values": [-4, -2, 0, 2, 4, 6, 8, 10], "format": "d", "title": null}}, "x2": {"field": "hi"},
                              "y": {"field": "p", "type": "quantitative", "scale": {"domain": [0, 0.617], "nice": false}, "axis": {"values": [0, 0.5], "format": ".1f", "title": "Probability"}}, "y2": {"datum": 0}}},
                {"title": "Estate", "width": 278, "height": 37, "data": {"name": "c3_est"}, "mark": {"type": "rect", "color": "#ffff00", "stroke": "#ffff00"},
                 "encoding": {"x": {"field": "lo", "type": "quantitative", "scale": {"domain": [-4, 10], "nice": false}, "axis": {"values": [-4, -2, 0, 2, 4, 6, 8, 10], "format": "d", "title": null}}, "x2": {"field": "hi"},
                              "y": {"field": "p", "type": "quantitative", "scale": {"domain": [0, 0.855], "nice": false}, "axis": {"values": [0, 0.5], "format": ".1f", "title": "Probability"}}, "y2": {"datum": 0}}},
                {"title": "Autunno", "width": 278, "height": 37, "data": {"name": "c3_aut"}, "mark": {"type": "rect", "color": "#800000", "stroke": "#800000"},
                 "encoding": {"x": {"field": "lo", "type": "quantitative", "scale": {"domain": [-4, 10], "nice": false}, "axis": {"values": [-4, -2, 0, 2, 4, 6, 8, 10], "format": "d", "title": null}}, "x2": {"field": "hi"},
                              "y": {"field": "p", "type": "quantitative", "scale": {"domain": [0, 0.342], "nice": false}, "axis": {"values": [0, 0.2], "format": ".1f", "title": "Probability"}}, "y2": {"datum": 0}}},
                {"title": "Inverno", "width": 278, "height": 37, "data": {"name": "c3_inv"}, "mark": {"type": "rect", "color": "#000080", "stroke": "#000080"},
                 "encoding": {"x": {"field": "lo", "type": "quantitative", "scale": {"domain": [-4, 10], "nice": false}, "axis": {"values": [-4, -2, 0, 2, 4, 6, 8, 10], "format": "d", "title": null}}, "x2": {"field": "hi"},
                              "y": {"field": "p", "type": "quantitative", "scale": {"domain": [0, 0.37], "nice": false}, "axis": {"values": [0, 0.2], "format": ".1f", "title": "Probability"}}, "y2": {"datum": 0}}}
              ]
            },
            {
              "title": {"text": "Cluster 4", "anchor": "end", "font": "Lato", "fontSize": 18, "fontWeight": "normal", "color": "#000", "dx": -27, "dy": 10, "offset": 0},
              "bounds": "flush", "spacing": 19,
              "vconcat": [
                {"title": "Primavera", "width": 278, "height": 38, "data": {"name": "c4_pri"}, "mark": {"type": "rect", "color": "#00ff00", "stroke": "#00ff00"},
                 "encoding": {"x": {"field": "lo", "type": "quantitative", "scale": {"domain": [-4, 10], "nice": false}, "axis": {"values": [-4, -2, 0, 2, 4, 6, 8, 10], "format": "d", "title": null}}, "x2": {"field": "hi"},
                              "y": {"field": "p", "type": "quantitative", "scale": {"domain": [0, 0.478], "nice": false}, "axis": {"values": [0, 0.25], "format": ".2f", "title": "Probability"}}, "y2": {"datum": 0}}},
                {"title": "Estate", "width": 278, "height": 38, "data": {"name": "c4_est"}, "mark": {"type": "rect", "color": "#ffff00", "stroke": "#ffff00"},
                 "encoding": {"x": {"field": "lo", "type": "quantitative", "scale": {"domain": [-4, 10], "nice": false}, "axis": {"values": [-4, -2, 0, 2, 4, 6, 8, 10], "format": "d", "title": null}}, "x2": {"field": "hi"},
                              "y": {"field": "p", "type": "quantitative", "scale": {"domain": [0, 0.82], "nice": false}, "axis": {"values": [0, 0.5], "format": ".1f", "title": "Probability"}}, "y2": {"datum": 0}}},
                {"title": "Autunno", "width": 278, "height": 38, "data": {"name": "c4_aut"}, "mark": {"type": "rect", "color": "#800000", "stroke": "#800000"},
                 "encoding": {"x": {"field": "lo", "type": "quantitative", "scale": {"domain": [-4, 10], "nice": false}, "axis": {"values": [-4, -2, 0, 2, 4, 6, 8, 10], "format": "d", "title": null}}, "x2": {"field": "hi"},
                              "y": {"field": "p", "type": "quantitative", "scale": {"domain": [0, 0.25], "nice": false}, "axis": {"values": [0, 0.2], "format": ".1f", "title": "Probability"}}, "y2": {"datum": 0}}},
                {"title": "Inverno", "width": 278, "height": 38, "data": {"name": "c4_inv"}, "mark": {"type": "rect", "color": "#000080", "stroke": "#000080"},
                 "encoding": {"x": {"field": "lo", "type": "quantitative", "scale": {"domain": [-4, 10], "nice": false}, "axis": {"values": [-4, -2, 0, 2, 4, 6, 8, 10], "format": "d", "title": null}}, "x2": {"field": "hi"},
                              "y": {"field": "p", "type": "quantitative", "scale": {"domain": [0, 0.315], "nice": false}, "axis": {"values": [0, 0.2], "format": ".1f", "title": "Probability"}}, "y2": {"datum": 0}}}
              ]
            }
          ],
          "spacing": 35
        }
      ],
      "spacing": 32
    }
  ],
  "spacing": 36
}
